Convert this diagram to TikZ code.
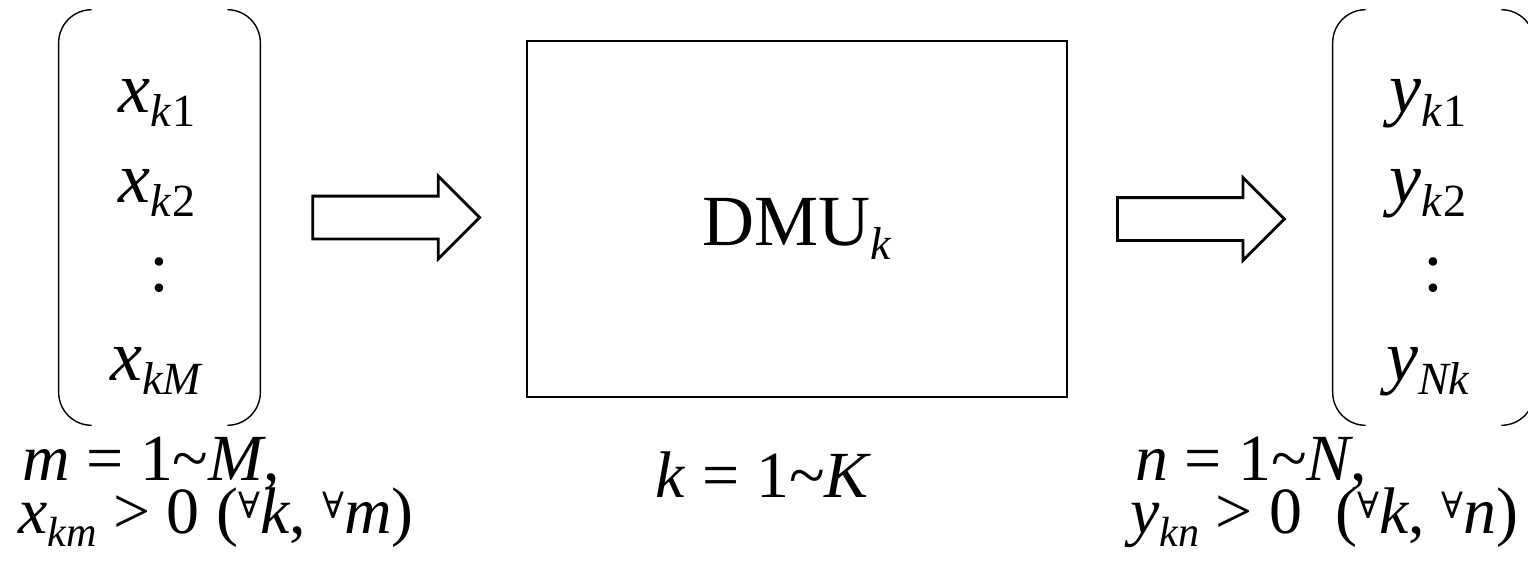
\documentclass[tikz,border=0pt]{standalone}
\usepackage{fontspec}
\setmainfont{Liberation Serif}[ItalicFont={Liberation Serif Italic}]
\newfontfamily\symfont{DejaVu Serif}
\usepackage{tikz}
\usetikzlibrary{shapes.arrows,calc}

% lowered index and small forall
\newcommand{\lo}[1]{\raisebox{-0.2em}{\fontsize{0.64em}{0.7em}\selectfont #1}}
\newcommand{\all}{\raisebox{0.22em}{\fontsize{0.55em}{0.6em}\selectfont\symfont ∀}}

\begin{document}
\begin{tikzpicture}[
  x=0.02cm, y=-0.02cm,
  main/.style={font=\fontsize{41}{44}\selectfont, inner sep=0, anchor=base},
  note/.style={font=\fontsize{37.5}{40}\selectfont, inner sep=0, anchor=base west},
  brace/.style={line width=0.8pt, rounded corners=0.66cm},
  vec/.style={minimum width=4.02cm, minimum height=8.3cm, inner sep=0},
  blockarr/.style={single arrow, draw, line width=1.6pt, minimum height=3.34cm,
    inner xsep=0, inner ysep=0.4cm, single arrow head extend=0.4cm,
    single arrow tip angle=90, anchor=tail},
]
  \useasboundingbox (0,0) rectangle (1528,572);

  % input vector, unit, output vector
  \node[vec] (inp) at (159.5,217.5) {};
  \node[draw, line width=1.3pt, minimum width=10.8cm, minimum height=7.12cm,
        inner sep=0] (dmu) at (797,219) {};
  \node[vec] (outp) at (1433.5,217.5) {};

  % round brackets
  \foreach \v in {inp,outp} {
    \draw[brace] ($(\v.north west)+(33,0)$) -- (\v.north west)
      -- (\v.south west) -- ($(\v.south west)+(33,0)$);
    \draw[brace] ($(\v.north east)+(-33,0)$) -- (\v.north east)
      -- (\v.south east) -- ($(\v.south east)+(-33,0)$);
  }

  % entries
  \node[main] (x1) at (157,112) {\textit{x}\lo{\textit{k}1}};
  \node[main] (x2) at (157,202) {\textit{x}\lo{\textit{k}2}};
  \node[main] (xd) at (160,291) {:};
  \node[main] (xM) at (157,380) {\textit{x}\lo{\textit{kM}}};
  \node[main] (y1) at (1428,112) {\textit{y}\lo{\textit{k}1}};
  \node[main] (y2) at (1428,202) {\textit{y}\lo{\textit{k}2}};
  \node[main] (yd) at (1433,291) {:};
  \node[main] (yN) at (1428,380) {\textit{y}\lo{\textit{Nk}}};
  \node[main] (lbl) at (797,245) {DMU\lo{\textit{k}}};

  % block arrows
  \node[blockarr] (a1) at ($(inp.east)+(51,0)$) {};
  \node[blockarr] (a2) at ($(dmu.east)+(48,0)$) {};

  % ranges and conditions
  \node[note] (mrange) at (22,480) {\textit{m} = 1\textasciitilde\textit{M},};
  \node[note] (xpos) at (18,533)
       {\textit{x}\lo{\textit{km}} > 0 (\all\textit{k}, \all\textit{m})};
  \node[note, anchor=base east] (krange) at (872,497)
       {\textit{k} = 1\textasciitilde\textit{K}};
  \node[note] (nrange) at (1135,480) {\textit{n} = 1\textasciitilde\textit{N},};
  \node[note] (ypos) at (1130,533)
       {\textit{y}\lo{\textit{kn}} > 0\ \ (\all\textit{k}, \all\textit{n})};
\end{tikzpicture}
\end{document}
